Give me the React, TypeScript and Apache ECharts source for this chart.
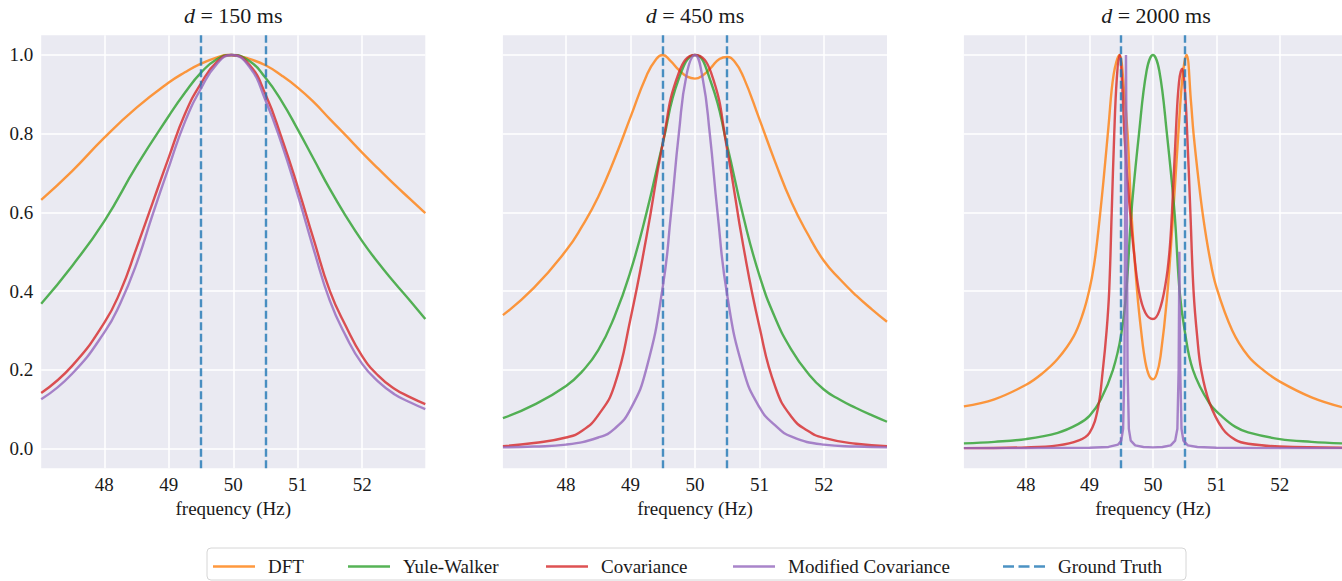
import React, { useEffect, useRef } from 'react';
import * as echarts from 'echarts';

type Pt = [number, number];

// ---------- data ----------
const panelDurations = ['150', '450', '2000'];
const xTicks = [48, 49, 50, 51, 52];
const yTicks = [0, 0.2, 0.4, 0.6, 0.8, 1.0];
const groundTruth = [49.5, 50.5];
const methodNames = ['DFT', 'Yule-Walker', 'Covariance', 'Modified Covariance'];
const truthName = 'Ground Truth';

// d = 150 ms
const dft150: Pt[] = [[47.02,0.632],[47.5,0.705],[48,0.79],[48.5,0.866],[49,0.93],[49.25,0.956],[49.5,0.978],[49.75,0.994],[49.92,1.0],[50.1,0.997],[50.25,0.99],[50.5,0.974],[50.75,0.948],[51,0.917],[51.25,0.88],[51.5,0.837],[51.75,0.795],[52,0.752],[52.25,0.711],[52.5,0.671],[52.75,0.633],[52.98,0.598]];
const yw150: Pt[] = [[47.02,0.368],[47.5,0.464],[48,0.578],[48.5,0.718],[49,0.845],[49.25,0.904],[49.5,0.955],[49.75,0.99],[49.97,1.0],[50.25,0.985],[50.5,0.942],[50.75,0.883],[51,0.811],[51.25,0.735],[51.5,0.659],[51.75,0.59],[52,0.527],[52.25,0.472],[52.5,0.422],[52.75,0.374],[52.98,0.329]];
const cov150: Pt[] = [[47.02,0.141],[47.5,0.21],[48,0.32],[48.25,0.4],[48.5,0.51],[48.75,0.625],[49,0.74],[49.25,0.85],[49.5,0.928],[49.75,0.983],[49.97,1.0],[50.25,0.975],[50.5,0.9],[50.75,0.79],[51,0.665],[51.25,0.53],[51.5,0.4],[51.75,0.31],[52,0.235],[52.25,0.185],[52.5,0.152],[52.75,0.13],[52.98,0.113]];
const modcov150: Pt[] = [[47.02,0.125],[47.5,0.19],[48,0.295],[48.25,0.37],[48.5,0.47],[48.75,0.595],[49,0.715],[49.25,0.83],[49.5,0.915],[49.75,0.978],[49.97,1.0],[50.25,0.97],[50.5,0.885],[50.75,0.775],[51,0.645],[51.25,0.505],[51.5,0.375],[51.75,0.285],[52,0.215],[52.25,0.17],[52.5,0.138],[52.75,0.117],[52.98,0.1]];

// d = 450 ms
const dft450: Pt[] = [[47.02,0.339],[47.5,0.408],[48,0.503],[48.25,0.565],[48.5,0.64],[48.75,0.735],[49,0.842],[49.25,0.948],[49.4,0.99],[49.5,1.0],[49.62,0.985],[49.75,0.962],[49.88,0.945],[50,0.94],[50.12,0.948],[50.25,0.968],[50.38,0.99],[50.5,0.995],[50.62,0.982],[50.75,0.945],[51,0.837],[51.25,0.726],[51.5,0.625],[51.75,0.545],[52,0.477],[52.25,0.43],[52.5,0.389],[52.75,0.353],[52.98,0.322]];
const yw450: Pt[] = [[47.02,0.077],[47.5,0.111],[48,0.159],[48.25,0.196],[48.5,0.25],[48.75,0.335],[49,0.45],[49.25,0.6],[49.5,0.775],[49.75,0.94],[50,1.0],[50.25,0.93],[50.5,0.77],[50.75,0.59],[51,0.44],[51.25,0.33],[51.5,0.25],[51.75,0.192],[52,0.15],[52.25,0.124],[52.5,0.103],[52.75,0.084],[52.98,0.068]];
const cov450: Pt[] = [[47.02,0.006],[47.5,0.014],[48,0.028],[48.25,0.045],[48.5,0.085],[48.75,0.16],[49,0.33],[49.25,0.54],[49.5,0.775],[49.75,0.955],[50,1.0],[50.25,0.955],[50.5,0.76],[50.75,0.515],[51,0.31],[51.25,0.155],[51.5,0.08],[51.75,0.045],[52,0.027],[52.5,0.012],[52.98,0.006]];
const modcov450: Pt[] = [[47.02,0.003],[47.5,0.005],[48,0.01],[48.5,0.028],[48.75,0.05],[49,0.1],[49.25,0.205],[49.5,0.41],[49.63,0.6],[49.75,0.8],[49.87,0.95],[50,1.0],[50.12,0.94],[50.23,0.8],[50.35,0.6],[50.5,0.39],[50.75,0.2],[51,0.105],[51.25,0.058],[51.5,0.03],[52,0.01],[52.5,0.005],[52.98,0.003]];

// d = 2000 ms
const dft2000: Pt[] = [[47.02,0.107],[47.5,0.125],[48,0.162],[48.25,0.19],[48.5,0.228],[48.75,0.285],[48.9,0.345],[49,0.405],[49.07,0.465],[49.13,0.54],[49.22,0.68],[49.3,0.82],[49.38,0.95],[49.47,1.0],[49.55,0.9],[49.6,0.8],[49.66,0.6],[49.75,0.4],[49.82,0.29],[49.88,0.22],[49.94,0.185],[50,0.176],[50.06,0.19],[50.12,0.235],[50.22,0.38],[50.32,0.6],[50.4,0.8],[50.47,0.95],[50.53,1.0],[50.6,0.88],[50.64,0.8],[50.72,0.68],[50.79,0.59],[50.89,0.49],[51,0.41],[51.25,0.3],[51.5,0.235],[51.75,0.198],[52,0.17],[52.5,0.13],[52.98,0.105]];
const yw2000: Pt[] = [[47.02,0.013],[47.5,0.017],[48,0.024],[48.5,0.04],[48.82,0.062],[49,0.083],[49.18,0.125],[49.37,0.2],[49.5,0.29],[49.58,0.4],[49.66,0.6],[49.78,0.8],[49.9,0.96],[50,1.0],[50.1,0.96],[50.22,0.8],[50.34,0.6],[50.42,0.4],[50.5,0.3],[50.63,0.2],[50.89,0.115],[51.1,0.08],[51.3,0.055],[51.5,0.041],[52,0.024],[52.5,0.017],[52.98,0.013]];
const cov2000: Pt[] = [[47.02,0.001],[48,0.003],[48.5,0.008],[48.82,0.02],[49,0.04],[49.13,0.1],[49.21,0.2],[49.27,0.3],[49.31,0.4],[49.35,0.6],[49.39,0.8],[49.43,0.94],[49.475,1.0],[49.51,0.94],[49.55,0.8],[49.6,0.68],[49.64,0.6],[49.7,0.5],[49.78,0.4],[49.88,0.345],[50,0.329],[50.1,0.35],[50.2,0.42],[50.26,0.5],[50.3,0.6],[50.36,0.8],[50.41,0.93],[50.46,0.965],[50.5,0.92],[50.54,0.8],[50.59,0.6],[50.64,0.4],[50.7,0.28],[50.76,0.2],[50.89,0.117],[51.1,0.05],[51.3,0.022],[51.5,0.012],[52,0.005],[52.98,0.002]];
const modcov2000: Pt[] = [[47.02,0.001],[48,0.001],[49,0.002],[49.3,0.004],[49.45,0.01],[49.5,0.02],[49.53,0.05],[49.55,0.2],[49.565,0.7],[49.575,1.0],[49.585,0.7],[49.6,0.2],[49.62,0.05],[49.65,0.02],[49.72,0.008],[49.85,0.004],[50,0.003],[50.15,0.004],[50.28,0.008],[50.35,0.02],[50.385,0.05],[50.405,0.2],[50.417,0.5],[50.43,0.2],[50.45,0.05],[50.48,0.02],[50.55,0.008],[50.7,0.004],[51,0.002],[52,0.001],[52.98,0.001]];

const panelData: Pt[][][] = [
  [dft150, yw150, cov150, modcov150],
  [dft450, yw450, cov450, modcov450],
  [dft2000, yw2000, cov2000, modcov2000],
];

// ---------- styling ----------
const COLORS = ['#ff7f0e', '#2ca02c', '#d62728', '#9467bd', '#1f77b4'];
const FONT = "'Liberation Serif', 'DejaVu Serif', serif";
const TXT = '#1a1a1a';
const GRID_LEFT = [41.2, 502.9, 963.9];
const GRID_TOP = 35.3;
const GRID_W = 384.1;
const GRID_H = 432.9;
const LEGEND_LEFT = [213, 348, 546, 733, 1003];
const DASH = [8, 3.5];
const LW = 2.4;
const SOLID_ICON = 'path://M0,0H42V2.4H0Z';
const DASH_ICON = 'path://M0,0H11V2.4H0Z M15.5,0H26.5V2.4H15.5Z M31,0H42V2.4H31Z';

export default function App() {
  const ref = useRef<HTMLDivElement>(null);

  useEffect(() => {
    if (!ref.current) return;
    const chart = echarts.init(ref.current, undefined, { renderer: 'svg' });

    const grids = GRID_LEFT.map((l) => ({
      left: l, top: GRID_TOP, width: GRID_W, height: GRID_H,
      show: true, backgroundColor: '#EAEAF2', borderWidth: 0,
    }));

    const xAxes = GRID_LEFT.map((_, i) => ({
      type: 'value', gridIndex: i, min: 47.02, max: 52.98,
      axisLine: { show: false },
      axisTick: { show: false, customValues: xTicks },
      axisLabel: { customValues: xTicks, fontFamily: FONT, fontSize: 19, color: TXT, margin: 7 },
      splitLine: { show: true, lineStyle: { color: '#ffffff', width: 1.5 } },
      name: 'frequency (Hz)', nameLocation: 'middle', nameGap: 29,
      nameTextStyle: { fontFamily: FONT, fontSize: 19, color: TXT },
    }));

    const yAxes = GRID_LEFT.map((_, i) => ({
      type: 'value', gridIndex: i, min: -0.05, max: 1.05,
      axisLine: { show: false },
      axisTick: { show: false, customValues: yTicks },
      axisLabel: {
        show: i === 0, customValues: yTicks, fontFamily: FONT, fontSize: 19, color: TXT, margin: 8,
        formatter: (v: number) => v.toFixed(1),
      },
      splitLine: { show: true, lineStyle: { color: '#ffffff', width: 1.5 } },
    }));

    const series: any[] = [];
    panelData.forEach((methods, p) => {
      methods.forEach((data, m) => {
        series.push({
          type: 'line', name: methodNames[m], xAxisIndex: p, yAxisIndex: p,
          data, symbol: 'none', showSymbol: false,
          smooth: p === 2 && m === 3 ? false : (p === 2 ? 0.4 : 0.5),
          lineStyle: { color: COLORS[m], width: LW, opacity: 0.8 },
          itemStyle: { color: COLORS[m], opacity: 0.8 },
          z: 2 + m,
        });
      });
    });
    GRID_LEFT.forEach((_, p) => {
      series.push({
        type: 'line', name: truthName, xAxisIndex: p, yAxisIndex: p,
        data: [], symbol: 'none',
        lineStyle: { color: COLORS[4], width: LW, type: DASH, opacity: 0.8 },
        itemStyle: { color: COLORS[4], opacity: 0.8 },
        z: 8,
        markLine: {
          silent: true, symbol: 'none', label: { show: false },
          lineStyle: { color: COLORS[4], width: LW, type: DASH, opacity: 0.8 },
          data: groundTruth.map((x) => ({ xAxis: x })),
        },
      });
    });

    const titles = panelDurations.map((d, i) => ({
      text: `{i|d} = ${d} ms`,
      left: GRID_LEFT[i] + GRID_W / 2, top: 4, textAlign: 'center', padding: 0,
      textStyle: {
        fontFamily: FONT, fontSize: 22, fontWeight: 'normal', color: TXT,
        rich: { i: { fontFamily: FONT, fontSize: 22, fontStyle: 'italic', color: TXT } },
      },
    }));

    const allNames = [...methodNames, truthName];
    const legends = allNames.map((n, i) => ({
      data: [{ name: n, icon: i === 4 ? DASH_ICON : SOLID_ICON, itemStyle: { color: COLORS[i], opacity: 0.8 } }],
      left: LEGEND_LEFT[i], top: 557, padding: 0,
      itemWidth: 42, itemHeight: 14, selectedMode: false,
      textStyle: { fontFamily: FONT, fontSize: 19, color: TXT, padding: [0, 0, 0, 8] },
    }));

    chart.setOption({
      animation: false,
      title: titles,
      grid: grids,
      xAxis: xAxes,
      yAxis: yAxes,
      legend: legends,
      series,
      graphic: [{
        type: 'rect', z: -1, silent: true,
        shape: { x: 207, y: 548, width: 979, height: 32, r: 4 },
        style: { fill: '#ffffff', stroke: '#d6d6d6', lineWidth: 1 },
      }],
    });

    return () => chart.dispose();
  }, []);

  return (
    <div
      ref={ref}
      style={{ position: 'absolute', left: 0, top: 0, width: 1342, height: 581, background: '#ffffff' }}
    />
  );
}
